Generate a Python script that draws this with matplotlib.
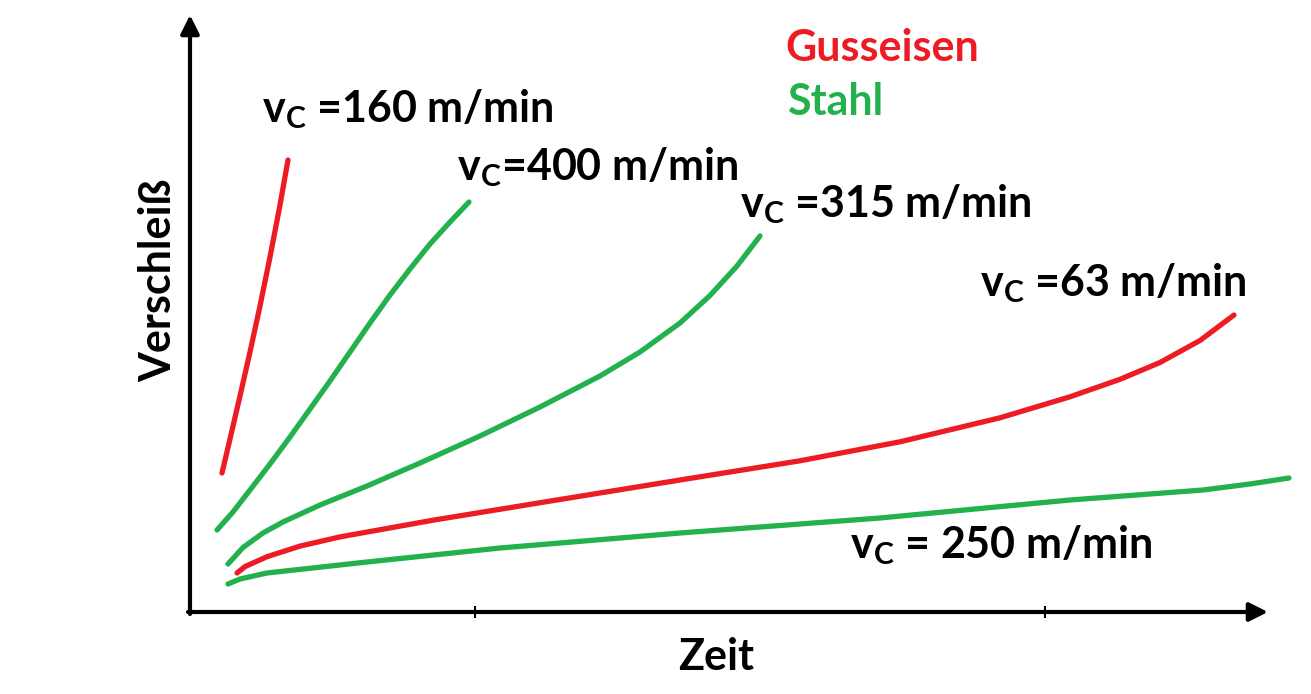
import matplotlib
matplotlib.use('Agg')
import matplotlib.pyplot as plt

plt.rcParams['font.family'] = ['Lato', 'DejaVu Sans']
plt.rcParams['font.weight'] = 'bold'
plt.rcParams['mathtext.fontset'] = 'custom'
plt.rcParams['mathtext.rm'] = 'Lato:bold'
plt.rcParams['mathtext.it'] = 'Lato:bold'
plt.rcParams['mathtext.bf'] = 'Lato:bold'

RED = '#ed1c24'
GREEN = '#22b14c'

# ---- data (time, wear), arbitrary units ----
t_160 = [32, 40, 50, 60, 70, 80, 90, 98]
w_160 = [139, 173, 216, 260, 306, 355, 407, 452]

t_400 = [27, 43, 60, 80, 100, 120, 140, 160, 180, 200, 220, 240, 260, 279]
w_400 = [82, 100, 122, 148, 175, 203, 231, 260, 289, 317, 343, 368, 390, 410]

t_315 = [38, 53, 73, 93, 130, 177, 230, 290, 350, 410, 450, 490, 520, 547, 570]
w_315 = [48, 64.5, 79, 90, 107, 126, 149, 176, 205, 236, 260, 289, 316.5, 346, 376]

t_63 = [47, 55, 77, 110, 150, 243, 360, 490, 610, 710, 810, 880, 930, 970, 1010, 1044]
w_63 = [39, 45.4, 55.3, 65.9, 75.1, 91.8, 110.9, 132, 151.2, 170.2, 194.2, 215.2,
        232.7, 249.5, 271.5, 297]

t_250 = [38, 50, 77, 177, 310, 490, 690, 880, 1013, 1060, 1099]
w_250 = [28, 33, 39, 50, 64, 79, 94, 112, 122, 128, 134]

x_ticks = [285, 855]

curves = [
    (t_160, w_160, RED),
    (t_400, w_400, GREEN),
    (t_315, w_315, GREEN),
    (t_63, w_63, RED),
    (t_250, w_250, GREEN),
]

W, H = 1311, 694
fig = plt.figure(figsize=(W / 100, H / 100), dpi=100)
ax = fig.add_axes([190 / W, 82 / H, 1121 / W, 597 / H])
ax.set_xlim(0, 1121)
ax.set_ylim(0, 597)
for s in ax.spines.values():
    s.set_visible(False)
ax.set_yticks([])
ax.set_xticks(x_ticks)
ax.tick_params(axis='x', direction='inout', length=9, width=1.5,
               labelbottom=False, color='black')
ax.patch.set_alpha(0)

for t, w, c in curves:
    ax.plot(t, w, color=c, lw=3.8, solid_capstyle='round',
            solid_joinstyle='round', clip_on=False)

# axes with arrows
arrow = dict(arrowstyle='-|>', lw=3, color='black', mutation_scale=28,
             shrinkA=0, shrinkB=0)
ax.annotate('', xy=(1078, 0), xytext=(-2, 0), arrowprops=arrow,
            annotation_clip=False)
ax.annotate('', xy=(0, 597), xytext=(0, -2), arrowprops=arrow,
            annotation_clip=False)


def px(x, y):
    return x / W, 1 - y / H


FS = 31

labels = [
    (262, 122, r'$\mathregular{v_C}$ =160 m/min'),
    (457, 180, r'$\mathregular{v_C}$=400 m/min'),
    (740, 217, r'$\mathregular{v_C}$ =315 m/min'),
    (980, 296, r'$\mathregular{v_C}$ =63 m/min'),
    (850, 558, r'$\mathregular{v_C}$ = 250 m/min'),
]
for x, y, s in labels:
    fig.text(*px(x, y), s, fontsize=FS, fontweight='bold',
             ha='left', va='baseline', color='black')

fig.text(*px(785, 61), 'Gusseisen', fontsize=FS, fontweight='bold',
         ha='left', va='baseline', color=RED)
fig.text(*px(787, 115), 'Stahl', fontsize=FS, fontweight='bold',
         ha='left', va='baseline', color=GREEN)

fig.text(*px(158, 280), 'Verschleiß', fontsize=FS, fontweight='bold',
         rotation=90, ha='center', va='center', color='black')
fig.text(*px(716, 670), 'Zeit', fontsize=FS, fontweight='bold',
         ha='center', va='baseline', color='black')

fig.savefig('out.png', dpi=100)
